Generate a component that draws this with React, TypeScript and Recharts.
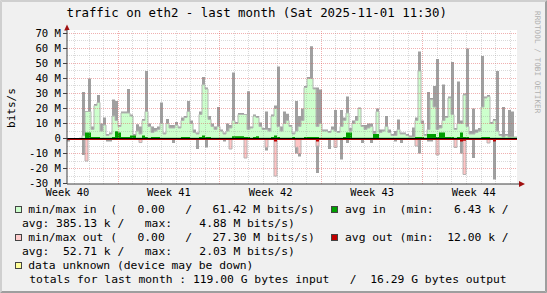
import React from 'react';
import { ComposedChart, Area, XAxis, YAxis, ReferenceLine, CartesianGrid } from 'recharts';

// ---- data (M bits/s), one value per time slot across the month ----
const maxIn = [
  0, 0, 0, 0, 0.5, 31, 18, 40, 8, 23,
  29, 10, 14, 3, 4, 26, 25, 9, 18, 18,
  33, 16, 3, 9.5, 8, 13, 45, 10, 8, 7,
  8, 24, 4, 13, 9, 9, 11, 8, 14, 15,
  25, 12, 6, 4, 18, 41, 34, 15, 10, 8,
  21, 6, 4, 10, 9, 44, 11, 17, 17, 16,
  31.5, 8, 16, 15, 10.7, 7, 18, 7, 16, 22,
  48, 8, 18, 16.5, 9, 4, 25, 15, 20, 35,
  41, 61.42, 34, 34, 32.7, 6, 6, 5, 8, 19,
  5, 19, 14, 28, 7, 12, 15, 20.7, 9, 9,
  10, 10, 5, 20, 6, 6, 15, 6, 3, 5,
  12.7, 4, 4, 3, 2, 7.3, 14, 58, 12, 3,
  31, 27, 35, 53, 9, 36, 15, 28, 51, 7,
  38, 12, 30, 60, 5, 20, 6, 7, 55, 28,
  29, 11, 13, 45, 3, 21, 3, 19, 18, 1,
];
const areaIn = [
  0, 0, 0, 0, 0, 2, 18, 18, 6, 22,
  24, 5, 9, 2, 3, 15, 12, 8, 17, 17,
  17, 15, 2, 5, 3, 12, 18, 8, 4, 5,
  6, 10, 3, 10, 7, 7, 9, 7, 12, 14,
  18, 10, 4, 3, 16, 36, 33, 12.7, 8, 6,
  8, 5, 3, 5, 7, 12, 10, 16, 16, 16,
  6, 7, 15, 14, 8, 6, 6, 5, 15, 20,
  8, 5, 10, 12, 8, 3, 5, 8, 12, 34,
  40, 40, 33, 8, 10, 5, 5, 4, 6, 5,
  4, 8, 12, 17, 5, 10, 12, 20, 8, 6,
  7, 8, 3, 18, 4, 5, 8, 4, 2, 2,
  6, 3, 3, 2, 1, 1, 12, 45, 10, 2,
  6, 26, 21, 6, 7, 12, 14, 27, 16, 6,
  10, 10, 29, 8, 3, 3, 4, 5, 21, 27,
  28, 10, 12, 5, 2, 1, 2, 1, 1, 1,
];
const avgIn = [
  0, 0, 0, 0, 0, 0, 4, 4, 1, 1,
  1, 0.5, 0.5, 0.5, 0.5, 1, 4.88, 4, 1, 1,
  1, 2, 2, 0.5, 0.5, 2, 1, 0.5, 1, 1,
  1, 0.5, 0.5, 0.5, 0.5, 0.5, 0.5, 0.5, 1, 1,
  1, 0.5, 0.5, 0.5, 1, 2, 1, 1, 0.5, 0.5,
  0.5, 0.5, 0.5, 0.5, 0.5, 1.5, 1.5, 1.5, 1.5, 1,
  1, 0.5, 1, 1.5, 0.5, 0.5, 0.5, 0.5, 1, 2,
  1, 0.5, 0.5, 0.5, 0.5, 1, 0.5, 0.5, 0.5, 1,
  1, 1, 1, 1, 0.5, 0.5, 0.5, 0.5, 0.5, 0.5,
  0.5, 0.5, 1, 4, 4, 0.5, 0.5, 0.5, 0.5, 0.5,
  0.5, 0.5, 3, 3, 0.5, 0.5, 0.5, 0.5, 0.5, 0.5,
  0.5, 0.5, 0.5, 0.5, 0.5, 0.5, 1, 1, 1, 0.5,
  3, 3, 3, 1, 4, 4, 1, 1, 1, 0.5,
  1, 4, 1, 1, 0.5, 0.5, 0.5, 0.5, 1, 1,
  1, 0.5, 0.5, 0.5, 0.5, 0.5, 0.5, 0.5, 0.5, 0.5,
];
const maxOut = [
  2, 0, 0, 0, 0, 11, 15, 0, 0, 0,
  0, 0, 0, 2, 2, 0, 0, 0, 0, 0,
  0, 0, 0, 0, 3, 0, 0, 0, 0, 0,
  0, 0, 0, 0, 0, 3, 0, 0, 0, 0,
  0, 0, 0, 7, 0, 0, 6, 0, 0, 0,
  0, 0, 2, 0, 7, 0, 0, 0, 0, 13,
  0, 0, 0, 0, 0, 0, 8, 0, 0, 25,
  0, 0, 0, 0, 0, 0, 10, 12, 0, 0,
  0, 0, 0, 23, 0, 0, 0, 7, 0, 6,
  0, 14, 0, 3, 0, 0, 0, 0, 3, 0,
  0, 3, 0, 0, 0, 0, 0, 0, 0, 2,
  0, 3, 0, 0, 0, 0, 5, 10, 0, 0,
  2, 2, 0, 11, 0, 0, 0, 0, 0, 6,
  0, 10, 24, 0, 0, 13, 0, 0, 0, 0,
  3, 0, 27.3, 0, 0, 0, 0, 0, 0, 0,
];
const areaOut = [
  0, 0, 0, 0, 0, 0, 15, 0, 0, 0,
  0, 0, 0, 0, 0, 0, 0, 0, 0, 0,
  0, 0, 0, 0, 2.7, 0, 0, 0, 0, 0,
  0, 0, 0, 0, 0, 0, 0, 0, 0, 0,
  0, 0, 0, 0, 0, 0, 0, 0, 0, 0,
  0, 0, 0, 0, 7, 0, 0, 0, 0, 13,
  0, 0, 0, 0, 0, 0, 6, 0, 0, 25,
  0, 0, 0, 0, 0, 0, 6, 10, 0, 0,
  0, 0, 0, 5, 0, 0, 0, 0, 0, 6,
  0, 0, 0, 0, 0, 0, 0, 0, 0, 0,
  0, 0, 0, 0, 0, 0, 0, 0, 0, 0,
  0, 0, 0, 0, 0, 0, 5, 0, 0, 0,
  0, 0, 0, 11, 0, 0, 0, 0, 0, 6,
  0, 0, 24, 0, 0, 0, 0, 0, 0, 0,
  3, 0, 0, 0, 0, 0, 0, 0, 0, 0,
];
const avgOut = [
  0, 0, 0, 0, 0, 0, 0, 0, 0, 0,
  0, 0, 0, 0, 0, 0, 0, 0, 0, 0,
  0, 0, 0, 0, 0, 0, 0, 0, 0, 0,
  0, 0, 0, 0, 0, 0, 0, 0, 0, 0,
  0, 0, 0, 0, 0, 0, 0, 0, 0, 0,
  0, 0, 0, 0, 0, 0, 0, 0, 0, 0,
  0, 0, 0, 0, 0, 0, 0, 0, 0, 2,
  0, 0, 0, 0, 0, 0, 0, 0, 0, 0,
  0, 0, 0, 2, 0, 0, 0, 0, 0, 0,
  0, 0, 0, 0, 0, 0, 0, 0, 0, 0,
  0, 0, 0, 0, 0, 0, 0, 0, 0, 0,
  0, 0, 0, 0, 0, 0, 0, 0, 0, 0,
  0, 0, 0, 0, 0, 0, 0, 0, 0, 0,
  0, 2, 1.5, 0, 0, 0, 0, 0, 0, 0,
  0, 0, 2.03, 0, 0, 0, 0, 0, 0, 0,
];

// ---- time axis (hours since start of the month window) ----
const SPAN_HOURS = 744;
const weekLabels = ['Week 40', 'Week 41', 'Week 42', 'Week 43', 'Week 44'];
const weekCenterHours = [0.5, 168.5, 336.5, 504.5, 672.5];
const weekStartHours = [84.5, 252.5, 420.5, 588.5];
const FIRST_MIDNIGHT = 12.5;
const yTicks = [-30, -20, -10, 0, 10, 20, 30, 40, 50, 60, 70];
const yMinorTicks = [-25, -15, -5, 5, 15, 25, 35, 45, 55, 65];

const SLOT_HOURS = SPAN_HOURS / maxIn.length;
const data = maxIn.map((v, i) => ({
  t: i * SLOT_HOURS,
  g: v,
  a: areaIn[i],
  d: avgIn[i],
  go: -maxOut[i],
  p: -areaOut[i],
  r: -avgOut[i],
}));
data.push({ ...data[data.length - 1], t: SPAN_HOURS });

const dayHours: number[] = [];
for (let h = FIRST_MIDNIGHT; h <= SPAN_HOURS; h += 24) {
  if (!weekStartHours.includes(h)) dayHours.push(h);
}

const FONT = '"DejaVu Sans Mono", monospace';
const ADV = 6.82;
const MINOR = 'rgba(143,143,143,0.33)';
const MAJOR = 'rgba(222,80,80,0.45)';

const WeekTick = (props: any) => {
  const { x, y, payload } = props;
  const idx = weekCenterHours.indexOf(payload.value);
  return (
    <text x={x} y={y + 12} textAnchor="middle" fontFamily={FONT} fontSize={10.4} fill="#000">
      {weekLabels[idx]}
    </text>
  );
};

const YTick = (props: any) => {
  const { x, y, payload } = props;
  const v = payload.value;
  return (
    <text x={x} y={y + 3.8} textAnchor="end" fontFamily={FONT} fontSize={10.6} fill="#000">
      {v === 0 ? '0' : `${v} M`}
    </text>
  );
};

const LegendLine = ({ x, y, text }: { x: number; y: number; text: string }) => (
  <text
    x={x}
    y={y}
    fontFamily={FONT}
    fontSize={11.33}
    fill="#000"
    style={{ whiteSpace: 'pre' }}
    textLength={text.length * ADV}
    lengthAdjust="spacing"
  >
    {text}
  </text>
);

const Swatch = ({ x, y, color }: { x: number; y: number; color: string }) => (
  <rect x={x + 0.5} y={y + 0.5} width={6} height={6} fill={color} stroke="#444" strokeWidth={1} />
);

const title = 'traffic on eth2 - last month (Sat 2025-11-01 11:30)';
const watermark = 'RRDTOOL / TOBI OETIKER';

export default function App() {
  return (
    <div style={{ position: 'absolute', left: 0, top: 0, width: 547, height: 293, background: '#f0f0f0' }}>
      <svg width={547} height={293} style={{ position: 'absolute', left: 0, top: 0 }}>
        <polygon points="0,0 547,0 545,2 2,2" fill="#cfcfcf" />
        <polygon points="0,0 2,2 2,291 0,293" fill="#cfcfcf" />
        <polygon points="0,293 2,291 545,291 547,293" fill="#9e9e9e" />
        <polygon points="547,0 547,293 545,291 545,2" fill="#9e9e9e" />
        <text x={66.5} y={17} fontFamily={FONT} fontSize={12.4} fill="#000" style={{ whiteSpace: 'pre' }}
          textLength={title.length * 7.46} lengthAdjust="spacing">{title}</text>
        <text transform="translate(15,108) rotate(-90)" textAnchor="middle" fontFamily={FONT} fontSize={11} fill="#000">bits/s</text>
        <text transform="translate(535,11) rotate(90)" fontFamily={FONT} fontSize={7.6} fill="#b0b0b0"
          style={{ whiteSpace: 'pre' }} textLength={watermark.length * 4.65} lengthAdjust="spacing">{watermark}</text>
        {/* axis arrows */}
        <line x1={67} y1={30} x2={67} y2={27} stroke="#404040" />
        <polygon points="67,24.5 64.2,30.5 69.8,30.5" fill="#a01010" />
        <line x1={517} y1={184} x2={520} y2={184} stroke="#404040" />
        <polygon points="525,184 519,181 519,187" fill="#a01010" />
        {/* legend */}
        <Swatch x={15} y={206} color="#ccffcc" />
        <LegendLine x={28.3} y={213} text="min/max in  (   0.00   /   61.42 M bits/s)" />
        <Swatch x={331} y={206} color="#00a000" />
        <LegendLine x={345} y={213} text="avg in  (min:   6.43 k /" />
        <LegendLine x={22} y={227} text="avg: 385.13 k /   max:    4.88 M bits/s)" />
        <Swatch x={15} y={234} color="#ffcccc" />
        <LegendLine x={28.3} y={241} text="min/max out (   0.00   /   27.30 M bits/s)" />
        <Swatch x={331} y={234} color="#c00000" />
        <LegendLine x={345} y={241} text="avg out (min:  12.00 k /" />
        <LegendLine x={22} y={255} text="avg:  52.71 k /   max:    2.03 M bits/s)" />
        <Swatch x={15} y={262} color="#ffff99" />
        <LegendLine x={28.3} y={269} text="data unknown (device may be down)" />
        <LegendLine x={29.3} y={283} text="totals for last month : 119.00 G bytes input   /  16.29 G bytes output" />
      </svg>
      <div style={{ position: 'absolute', left: 0, top: 0 }}>
        <ComposedChart width={547} height={293} data={data} margin={{ top: 30, right: 30, bottom: 89, left: 0 }}>
          <CartesianGrid horizontal={false} vertical={false} fill="#ffffff" />
          <XAxis
            dataKey="t"
            type="number"
            domain={[0, SPAN_HOURS]}
            allowDataOverflow
            ticks={weekCenterHours}
            interval={0}
            height={20}
            tickSize={0}
            tickMargin={0}
            tickLine={false}
            axisLine={{ stroke: '#404040' }}
            tick={<WeekTick />}
          />
          <YAxis
            type="number"
            domain={[-30.333, 72.333]}
            allowDataOverflow
            ticks={yTicks}
            interval={0}
            width={67}
            tickSize={4}
            tickMargin={2}
            tickLine={{ stroke: '#404040' }}
            axisLine={{ stroke: '#404040' }}
            tick={<YTick />}
          />
          <Area type="stepAfter" dataKey="g" stroke="none" fill="#a0a0a0" fillOpacity={1} baseValue={0} isAnimationActive={false} dot={false} activeDot={false} />
          <Area type="stepAfter" dataKey="go" stroke="none" fill="#a0a0a0" fillOpacity={1} baseValue={0} isAnimationActive={false} dot={false} activeDot={false} />
          <Area type="stepAfter" dataKey="a" stroke="#b2b8b2" strokeWidth={1} fill="#ccffcc" fillOpacity={1} baseValue={0} isAnimationActive={false} dot={false} activeDot={false} />
          <Area type="stepAfter" dataKey="p" stroke="#b8b2b2" strokeWidth={1} fill="#ffc4c4" fillOpacity={1} baseValue={0} isAnimationActive={false} dot={false} activeDot={false} />
          <Area type="stepAfter" dataKey="d" stroke="none" fill="#00a000" fillOpacity={1} baseValue={0} isAnimationActive={false} dot={false} activeDot={false} />
          <Area type="stepAfter" dataKey="r" stroke="none" fill="#c00000" fillOpacity={1} baseValue={0} isAnimationActive={false} dot={false} activeDot={false} />
          {yMinorTicks.map((v) => (
            <ReferenceLine key={`hm${v}`} y={v} stroke={MINOR} strokeDasharray="1 1" shapeRendering="crispEdges" />
          ))}
          {yTicks.filter((v) => v !== 0 && v !== -30).map((v) => (
            <ReferenceLine key={`hM${v}`} y={v} stroke={MAJOR} strokeDasharray="1 1" shapeRendering="crispEdges" />
          ))}
          {dayHours.map((h) => (
            <ReferenceLine key={`vm${h}`} x={h} stroke={MINOR} strokeDasharray="1 1" shapeRendering="crispEdges" />
          ))}
          {weekStartHours.map((h) => (
            <ReferenceLine key={`vM${h}`} x={h} stroke={MAJOR} strokeDasharray="1 1" shapeRendering="crispEdges" />
          ))}
          <ReferenceLine y={-0.667} stroke="#b00000" strokeWidth={1} shapeRendering="crispEdges" />
          <ReferenceLine y={0} stroke="#000000" strokeWidth={1} shapeRendering="crispEdges" />
        </ComposedChart>
      </div>
    </div>
  );
}
